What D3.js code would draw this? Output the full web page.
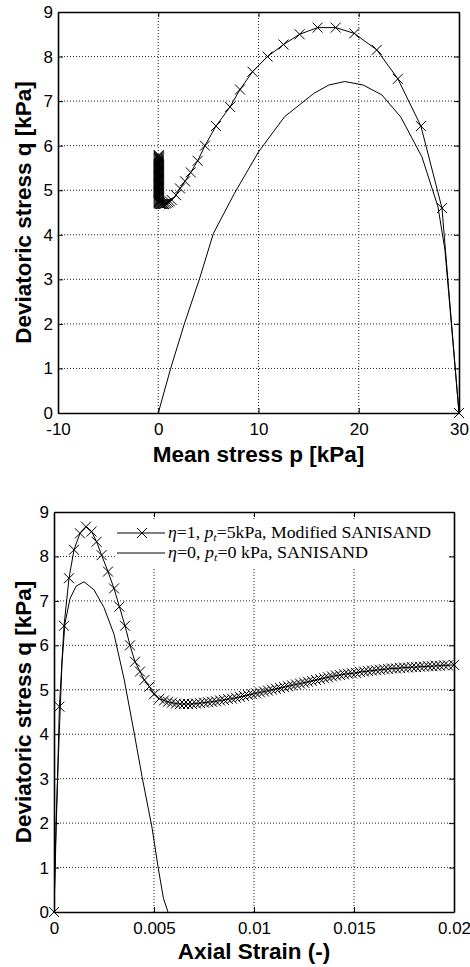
<!DOCTYPE html>
<html>
<head>
<meta charset="utf-8">
<script src="https://cdn.jsdelivr.net/npm/d3@7"></script>
<style>
body{margin:0;background:#fff}
svg{display:block}
</style>
</head>
<body>
<div id="chart"></div>
<script>
// top plot, p-q path, modified SANISAND (eta=1, pt=5kPa), with x markers
var pqModP = [30, 28.3, 26.2, 23.9, 21.8, 19.55, 17.7, 15.9, 14.1, 12.5, 10.9, 9.4, 8.15, 7.16, 5.76, 4.66,
    3.93, 3.24, 2.67, 2.17, 1.77, 1.34, 1.15, 1.0, 0.85, 0.7, 0.58, 0.45, 0.35, 0.27, 0.2, 0.14, 0.1, 0.07,
    0.05, 0.05, 0.05, 0.05, 0.05, 0.05, 0.05, 0.05, 0.05, 0.05, 0.05, 0.05, 0.05, 0.05, 0.05, 0.05, 0.05, 0.05,
    0.05, 0.05, 0.05, 0.05, 0.05, 0.05, 0.05, 0.05, 0.05, 0.05, 0.05, 0.05, 0.05, 0.05, 0.05, 0.05, 0.05, 0.05,
    0.05, 0.05, 0.05, 0.05, 0.05, 0.05, 0.05, 0.05, 0.05, 0.05, 0.05, 0.05, 0.05, 0.05, 0.05, 0.05, 0.05, 0.05]
var pqModQ = [0, 4.6, 6.44, 7.5, 8.15, 8.52, 8.65, 8.65, 8.5, 8.27, 8.0, 7.66, 7.26, 6.87, 6.44, 6.0,
    5.66, 5.4, 5.2, 5.04, 4.89, 4.78, 4.75, 4.73, 4.71, 4.7, 4.69, 4.69, 4.69, 4.69, 4.69, 4.7, 4.71, 4.72,
    4.73, 4.75, 4.77, 4.79, 4.81, 4.83, 4.85, 4.87, 4.89, 4.91, 4.93, 4.95, 4.97, 4.99, 5.01, 5.03, 5.05, 5.07,
    5.09, 5.11, 5.13, 5.15, 5.17, 5.19, 5.21, 5.23, 5.25, 5.27, 5.29, 5.31, 5.33, 5.35, 5.37, 5.39, 5.41, 5.43,
    5.45, 5.47, 5.49, 5.51, 5.53, 5.55, 5.57, 5.59, 5.61, 5.63, 5.65, 5.67, 5.69, 5.71, 5.73, 5.75, 5.77, 5.79]
// top plot, p-q path, SANISAND (eta=0, pt=0)
var pqSanP = [0, 1.24, 2.6, 4.1, 5.5, 7.6, 10.0, 12.6, 15.5, 17.0, 18.6, 20.45, 22.3, 24.2, 26.3, 27.9, 28.6, 30]
var pqSanQ = [0, 1.0, 2.0, 3.0, 4.03, 4.93, 5.86, 6.65, 7.17, 7.36, 7.44, 7.36, 7.14, 6.64, 5.75, 4.63, 3.66, 0]

// bottom plot, axial strain - q, modified SANISAND
var epsMod = [0, 0.00027, 0.0005, 0.00075, 0.001, 0.0013, 0.0016, 0.00188, 0.00213, 0.00238, 0.0027, 0.003,
    0.00327, 0.00355, 0.0038, 0.00405, 0.0043, 0.00452, 0.00477, 0.005, 0.00527,
    0.0055, 0.0057, 0.0059, 0.0061, 0.0063, 0.0065, 0.0067, 0.0069, 0.0071, 0.0073,
    0.0075, 0.0077, 0.0079, 0.0081, 0.0083, 0.0085, 0.0087, 0.0089, 0.0091, 0.0093,
    0.0095, 0.0097, 0.0099, 0.0101, 0.0103, 0.0105, 0.0107, 0.0109, 0.0111, 0.0113,
    0.0115, 0.0117, 0.0119, 0.0121, 0.0123, 0.0125, 0.0127, 0.0129, 0.0131, 0.0133,
    0.0135, 0.0137, 0.0139, 0.0141, 0.0143, 0.0145, 0.0147, 0.0149, 0.0151, 0.0153,
    0.0155, 0.0157, 0.0159, 0.0161, 0.0163, 0.0165, 0.0167, 0.0169, 0.0171, 0.0173,
    0.0175, 0.0177, 0.0179, 0.0181, 0.0183, 0.0185, 0.0187, 0.0189, 0.0191, 0.0193,
    0.0195, 0.0197, 0.02]
var qMod = [0, 4.62, 6.44, 7.51, 8.15, 8.52, 8.67, 8.56, 8.33, 8.03, 7.66, 7.28,
    6.87, 6.44, 6.0, 5.63, 5.41, 5.22, 5.07, 4.9, 4.8,
    4.76, 4.73, 4.71, 4.69, 4.68, 4.68, 4.68, 4.68, 4.69, 4.7,
    4.71, 4.72, 4.73, 4.74, 4.76, 4.77, 4.79, 4.8, 4.82, 4.84,
    4.86, 4.88, 4.9, 4.92, 4.94, 4.96, 4.98, 5.0, 5.02, 5.04,
    5.06, 5.08, 5.1, 5.12, 5.14, 5.16, 5.18, 5.2, 5.22, 5.24,
    5.26, 5.28, 5.3, 5.32, 5.33, 5.35, 5.36, 5.37, 5.38, 5.4,
    5.41, 5.42, 5.43, 5.44, 5.45, 5.46, 5.47, 5.48, 5.48, 5.49,
    5.5, 5.5, 5.51, 5.51, 5.52, 5.52, 5.53, 5.53, 5.54, 5.54,
    5.55, 5.55, 5.56]
// bottom plot, axial strain - q, SANISAND
var epsSan = [0, 0.0001, 0.00027, 0.0004, 0.00055, 0.0008, 0.0011, 0.0015, 0.002, 0.0025, 0.003, 0.0035,
    0.004, 0.0044, 0.0049, 0.0052, 0.00547, 0.0057]
var qSan = [0, 2.0, 4.1, 5.6, 6.5, 7.05, 7.33, 7.43, 7.25, 6.85, 6.25, 5.25,
    4.05, 3.05, 1.9, 1.02, 0.31, 0]

var pTicks = [-10, 0, 10, 20, 30]
var epsTicks = [0, 0.005, 0.01, 0.015, 0.02]
var epsTickLabels = ["0", "0.005", "0.01", "0.015", "0.02"]
var qTicks = [0, 1, 2, 3, 4, 5, 6, 7, 8, 9]

var width = 470, height = 967
var svg = d3.select("#chart").append("svg")
    .attr("width", width)
    .attr("height", height)
    .style("font-family", "'Liberation Sans', Arial, sans-serif")

function zip(a, b) {
    return a.map(function(v, i) { return [v, b[i]] })
}

function panel(o) {
    var g = svg.append("g")
    var x = d3.scaleLinear().domain(o.xDomain).range([o.left, o.right])
    var y = d3.scaleLinear().domain([0, 9]).range([o.bottom, o.top])

    // dotted grid
    g.selectAll(".vgrid")
        .data(o.xTicks.filter(function(d) { return d > o.xDomain[0] && d < o.xDomain[1] }))
        .enter().append("line")
        .attr("x1", function(d) { return x(d) }).attr("x2", function(d) { return x(d) })
        .attr("y1", o.top).attr("y2", o.bottom)
        .attr("stroke", "#222").attr("stroke-width", 1).attr("stroke-dasharray", "1,2")
    g.selectAll(".hgrid")
        .data(qTicks.filter(function(d) { return d > 0 && d < 9 }))
        .enter().append("line")
        .attr("x1", o.left).attr("x2", o.right)
        .attr("y1", function(d) { return y(d) }).attr("y2", function(d) { return y(d) })
        .attr("stroke", "#222").attr("stroke-width", 1).attr("stroke-dasharray", "1,2")

    var clipId = "clip" + o.id
    svg.append("clipPath").attr("id", clipId).append("rect")
        .attr("x", o.left).attr("y", o.top)
        .attr("width", o.right - o.left).attr("height", o.bottom - o.top)

    var line = d3.line().x(function(d) { return x(d[0]) }).y(function(d) { return y(d[1]) })
        .curve(d3.curveMonotoneX)
    var straight = d3.line().x(function(d) { return x(d[0]) }).y(function(d) { return y(d[1]) })

    g.append("path").datum(o.san)
        .attr("d", o.smoothSan ? line : straight).attr("clip-path", "url(#" + clipId + ")")
        .attr("fill", "none").attr("stroke", "#000").attr("stroke-width", 1)
    g.append("path").datum(o.mod)
        .attr("d", straight).attr("clip-path", "url(#" + clipId + ")")
        .attr("fill", "none").attr("stroke", "#000").attr("stroke-width", 1)

    var s = 5
    g.selectAll(".mk")
        .data(o.mod.filter(function(d) { return d[0] >= o.xDomain[0] && d[0] <= o.xDomain[1] }))
        .enter().append("path")
        .attr("d", function(d) {
            var cx = x(d[0]), cy = y(d[1])
            return "M" + (cx - s) + "," + (cy - s) + "L" + (cx + s) + "," + (cy + s) +
                "M" + (cx - s) + "," + (cy + s) + "L" + (cx + s) + "," + (cy - s)
        })
        .attr("stroke", "#000").attr("stroke-width", 1).attr("fill", "none")

    if (o.legend) o.legend(g)

    // axes with inward ticks on all four sides
    var xb = g.append("g").attr("transform", "translate(0," + o.bottom + ")")
        .call(d3.axisBottom(x).tickValues(o.xTicks).tickFormat(function(d, i) { return o.xLabels[i] })
            .tickSizeInner(-5).tickSizeOuter(0).tickPadding(10))
    var yl = g.append("g").attr("transform", "translate(" + o.left + ",0)")
        .call(d3.axisLeft(y).tickValues(qTicks).tickSizeInner(-5).tickSizeOuter(0).tickPadding(5))
    var xt = g.append("g").attr("transform", "translate(0," + o.top + ")")
        .call(d3.axisTop(x).tickValues(o.xTicks).tickFormat("").tickSizeInner(-5).tickSizeOuter(0))
    var yr = g.append("g").attr("transform", "translate(" + o.right + ",0)")
        .call(d3.axisRight(y).tickValues(qTicks).tickFormat("").tickSizeInner(-5).tickSizeOuter(0))
    ;[xb, yl, xt, yr].forEach(function(a) {
        a.select(".domain").attr("stroke", "#000").attr("stroke-width", 1.6)
        a.selectAll(".tick line").attr("stroke", "#000").attr("stroke-width", 1)
        a.selectAll("text").attr("fill", "#000").style("font-size", "17px")
            .style("font-family", "'Liberation Sans', Arial, sans-serif")
    })

    g.append("text")
        .attr("x", (o.left + o.right) / 2).attr("y", o.bottom + o.xTitleDy)
        .attr("text-anchor", "middle")
        .style("font-size", "22.5px").style("font-weight", "bold")
        .text(o.xTitle)
    g.append("text")
        .attr("transform", "translate(31," + ((o.top + o.bottom) / 2) + ") rotate(-90)")
        .attr("text-anchor", "middle")
        .style("font-size", "22.5px").style("font-weight", "bold")
        .text("Deviatoric stress q [kPa]")
}

panel({
    id: "pq", left: 58, right: 459, top: 12, bottom: 413,
    xDomain: [-10, 30], xTicks: pTicks, xLabels: pTicks.map(String),
    mod: zip(pqModP, pqModQ), san: zip(pqSanP, pqSanQ), smoothSan: false,
    xTitle: "Mean stress p [kPa]", xTitleDy: 49
})

panel({
    id: "eq", left: 54, right: 454, top: 512, bottom: 912,
    xDomain: [0, 0.02], xTicks: epsTicks, xLabels: epsTickLabels,
    mod: zip(epsMod, qMod), san: zip(epsSan, qSan), smoothSan: false,
    xTitle: "Axial Strain (-)", xTitleDy: 47,
    legend: function(g) {
        g.append("rect").attr("x", 116).attr("y", 519).attr("width", 332).attr("height", 48)
            .attr("fill", "#fff")
        var rows = [
            { y: 533, mark: true, eta: "1", pt: "5kPa, Modified SANISAND", len: 263 },
            { y: 553, mark: false, eta: "0", pt: "0 kPa, SANISAND", len: 200 }
        ]
        rows.forEach(function(r) {
            g.append("line").attr("x1", 117).attr("x2", 165).attr("y1", r.y).attr("y2", r.y)
                .attr("stroke", "#000").attr("stroke-width", 1)
            if (r.mark) {
                g.append("path")
                    .attr("d", "M137," + (r.y - 5) + "L147," + (r.y + 5) + "M137," + (r.y + 5) + "L147," + (r.y - 5))
                    .attr("stroke", "#000").attr("stroke-width", 1)
            }
            var t = g.append("text").attr("x", 168).attr("y", r.y + 5)
                .attr("textLength", r.len).attr("lengthAdjust", "spacingAndGlyphs")
                .style("font-family", "'Liberation Serif', 'Times New Roman', serif")
                .style("font-size", "16.5px")
            t.append("tspan").style("font-style", "italic").text("η")
            t.append("tspan").text("=" + r.eta + ", ")
            t.append("tspan").style("font-style", "italic").text("p")
            t.append("tspan").style("font-style", "italic").style("font-size", "11px").attr("dy", 3).text("t")
            t.append("tspan").attr("dy", -3).text("=" + r.pt)
        })
    }
})
</script>
</body>
</html>
